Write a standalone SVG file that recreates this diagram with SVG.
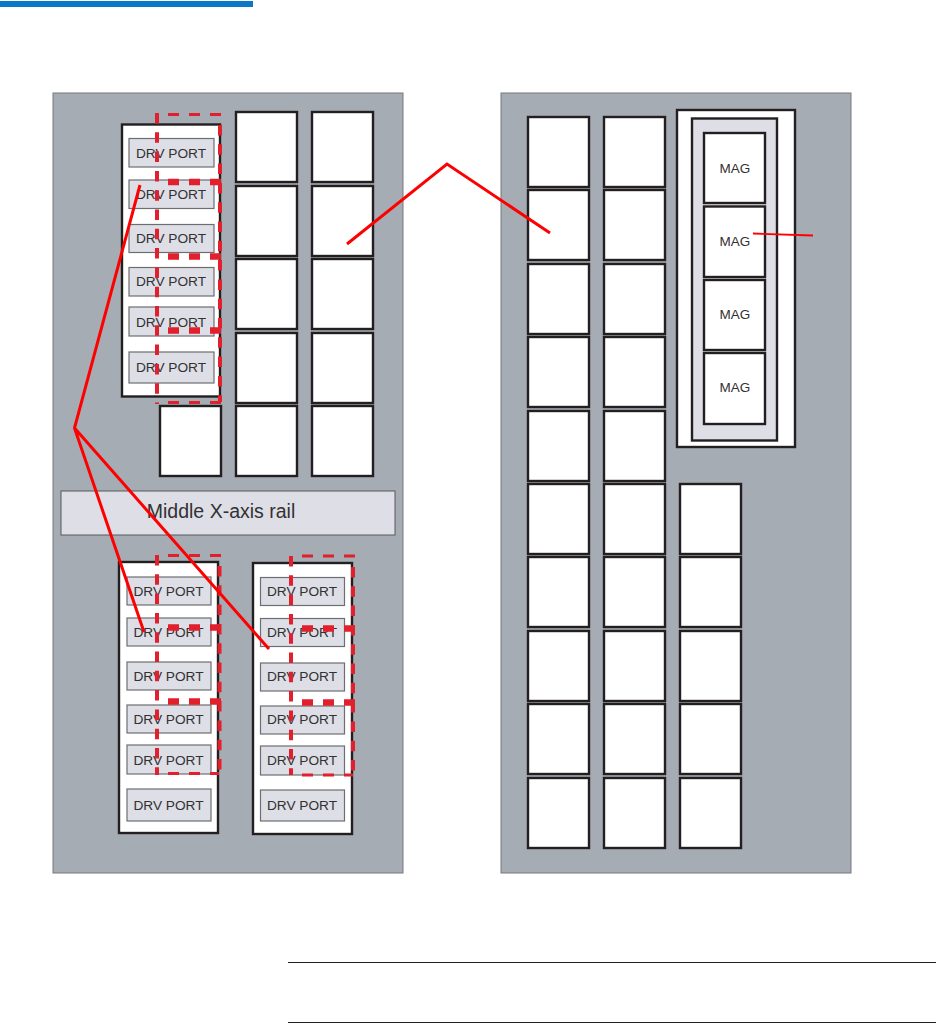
<svg xmlns="http://www.w3.org/2000/svg" width="936" height="1033" viewBox="0 0 936 1033">
<style>
.bay{fill:#a5acb3;stroke:#77797d;stroke-width:1}
.s{fill:#fff;stroke:#231f20;stroke-width:2.400}
.d{fill:#fff;stroke:#231f20;stroke-width:2.400}
.p{fill:#dddee6;stroke:#6d6e71;stroke-width:1.200}
.rail{fill:#dddee6;stroke:#58595b;stroke-width:1}
text{font-family:"Liberation Sans",Arial,sans-serif;fill:#333132;text-anchor:middle}
.t{font-size:13.700px}
.m{font-size:13.500px}
.r{fill:none;stroke:#e21f2d;stroke-width:3;stroke-dasharray:11 10}
.rv{fill:none;stroke:#e21f2d;stroke-width:4;stroke-dasharray:10.500 8.800}
.h{fill:none;stroke:#e21f2d;stroke-width:6.500;stroke-dasharray:11 10}
.l{fill:none;stroke:#f00;stroke-width:3}
</style>
<rect id="header-bar" x="0" y="1" width="253" height="6" fill="#0a78c8"/>
<g id="left-bay">
<rect class="bay" x="53" y="93" width="350" height="780"/>
<g id="left-slots">
<rect class="s" x="236" y="112" width="61" height="70"/><rect class="s" x="312" y="112" width="61" height="70"/>
<rect class="s" x="236" y="186" width="61" height="70"/><rect class="s" x="312" y="186" width="61" height="70"/>
<rect class="s" x="236" y="259" width="61" height="70"/><rect class="s" x="312" y="259" width="61" height="70"/>
<rect class="s" x="236" y="333" width="61" height="70"/><rect class="s" x="312" y="333" width="61" height="70"/>
<rect class="s" x="160" y="406" width="61" height="70"/><rect class="s" x="236" y="406" width="61" height="70"/><rect class="s" x="312" y="406" width="61" height="70"/>
</g>
<g id="rail"><rect class="rail" x="61" y="491" width="334" height="44"/><text x="221" y="518" font-size="19.500px">Middle X-axis rail</text></g>
</g>
<g id="drive-top">
<rect class="d" x="122" y="124.500" width="98" height="272"/>
<rect class="p" x="129" y="138.500" width="85" height="28.500"/><text class="t" x="171" y="157.500">DRV PORT</text>
<rect class="p" x="129" y="180" width="85" height="28.500"/><text class="t" x="171" y="198.500">DRV PORT</text>
<rect class="p" x="129" y="224.500" width="85" height="28"/><text class="t" x="171" y="242.500">DRV PORT</text>
<rect class="p" x="129" y="267.500" width="85" height="28.500"/><text class="t" x="171" y="285.500">DRV PORT</text>
<rect class="p" x="129" y="307" width="85" height="29"/><text class="t" x="171" y="326.500">DRV PORT</text>
<rect class="p" x="129" y="352" width="85" height="31"/><text class="t" x="171" y="371.500">DRV PORT</text>
</g>
<g id="drive-bl">
<rect class="d" x="119" y="562" width="99" height="271"/>
<rect class="p" x="127" y="577" width="84" height="28"/><text class="t" x="168.500" y="595.500">DRV PORT</text>
<rect class="p" x="127" y="618" width="84" height="28"/><text class="t" x="168.500" y="636.500">DRV PORT</text>
<rect class="p" x="127" y="662" width="84" height="28"/><text class="t" x="168.500" y="680.500">DRV PORT</text>
<rect class="p" x="127" y="705" width="84" height="28"/><text class="t" x="168.500" y="723.500">DRV PORT</text>
<rect class="p" x="127" y="745" width="84" height="29"/><text class="t" x="168.500" y="764.500">DRV PORT</text>
<rect class="p" x="127" y="789" width="84" height="32"/><text class="t" x="168.500" y="809.500">DRV PORT</text>
</g>
<g id="drive-br">
<rect class="d" x="253" y="563" width="99" height="271"/>
<rect class="p" x="260.500" y="577.500" width="84" height="28"/><text class="t" x="302" y="596">DRV PORT</text>
<rect class="p" x="260.500" y="618.500" width="84" height="28"/><text class="t" x="302" y="637">DRV PORT</text>
<rect class="p" x="260.500" y="663" width="84" height="28"/><text class="t" x="302" y="681">DRV PORT</text>
<rect class="p" x="260.500" y="706" width="84" height="28"/><text class="t" x="302" y="724">DRV PORT</text>
<rect class="p" x="260.500" y="746" width="84" height="29"/><text class="t" x="302" y="765">DRV PORT</text>
<rect class="p" x="260.500" y="790" width="84" height="31"/><text class="t" x="302" y="810">DRV PORT</text>
</g>
<g id="right-bay">
<rect class="bay" x="501" y="93" width="350" height="780"/>
<g id="right-slots">
<rect class="s" x="528" y="117" width="61" height="70"/><rect class="s" x="604" y="117" width="61" height="70"/>
<rect class="s" x="528" y="190" width="61" height="70"/><rect class="s" x="604" y="190" width="61" height="70"/>
<rect class="s" x="528" y="264" width="61" height="70"/><rect class="s" x="604" y="264" width="61" height="70"/>
<rect class="s" x="528" y="337" width="61" height="70"/><rect class="s" x="604" y="337" width="61" height="70"/>
<rect class="s" x="528" y="411" width="61" height="70"/><rect class="s" x="604" y="411" width="61" height="70"/>
<rect class="s" x="528" y="484" width="61" height="70"/><rect class="s" x="604" y="484" width="61" height="70"/><rect class="s" x="680" y="484" width="61" height="70"/>
<rect class="s" x="528" y="557" width="61" height="70"/><rect class="s" x="604" y="557" width="61" height="70"/><rect class="s" x="680" y="557" width="61" height="70"/>
<rect class="s" x="528" y="631" width="61" height="70"/><rect class="s" x="604" y="631" width="61" height="70"/><rect class="s" x="680" y="631" width="61" height="70"/>
<rect class="s" x="528" y="704" width="61" height="70"/><rect class="s" x="604" y="704" width="61" height="70"/><rect class="s" x="680" y="704" width="61" height="70"/>
<rect class="s" x="528" y="778" width="61" height="70"/><rect class="s" x="604" y="778" width="61" height="70"/><rect class="s" x="680" y="778" width="61" height="70"/>
</g>
</g>
<g id="mag-unit">
<rect x="677" y="110" width="118" height="337" fill="#fff" stroke="#231f20" stroke-width="2.400"/>
<rect x="692" y="118.500" width="85" height="322" fill="#dddee6" stroke="#231f20" stroke-width="2.400"/>
<rect class="s" x="704" y="133" width="61" height="70"/><text class="m" x="735" y="172.500">MAG</text>
<rect class="s" x="704" y="206.500" width="61" height="70.500"/><text class="m" x="735" y="245.500">MAG</text>
<rect class="s" x="704" y="280" width="61" height="70"/><text class="m" x="735" y="319">MAG</text>
<rect class="s" x="704" y="353" width="61" height="71"/><text class="m" x="735" y="392">MAG</text>
</g>
<g id="connectors">
<g id="dashes-top">
<path class="rv" d="M157 113V404"/><path class="r" d="M168 114.500H222M168 402.500H222"/><path class="rv" d="M220 125V402"/><path class="h" d="M168 182H222M168 256.500H222M168 330.500H222"/>
</g>
<g id="dashes-bl">
<path class="rv" d="M157 555V775"/><path class="r" d="M168 555.500H222M168 773.500H219"/><path class="rv" d="M219.500 566V774"/><path class="h" d="M168 627.500H222M168 701.500H222"/>
</g>
<g id="dashes-br">
<path class="rv" d="M291 556V775"/><path class="r" d="M302 556H355M302 775H353"/><path class="rv" d="M353 567V775"/><path class="h" d="M302 628.500H356M302 702.500H356"/>
</g>
<path class="l" d="M140 185L74.500 428L144 632M74.500 428L269 649"/>
<path class="l" d="M347 244L447 164L550 233"/>
<path class="l" style="stroke-width:1.800" d="M753 233.500L813 235.500"/>
</g>
<g id="rules">
<path d="M288 962.500H936M288 1022.500H936" stroke="#231f20" stroke-width="1" fill="none"/>
</g>
</svg>
